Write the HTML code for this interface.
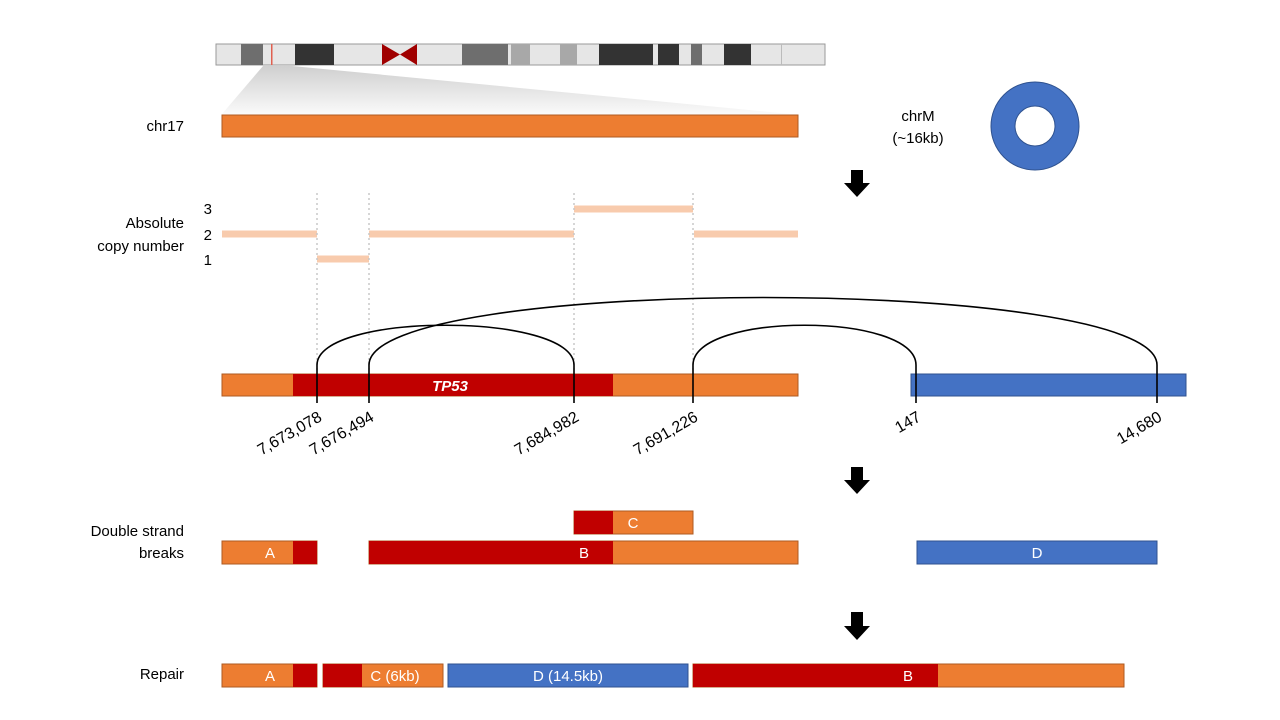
<!DOCTYPE html>
<html><head><meta charset="utf-8"><style>body{margin:0;background:#fff}svg{display:block}text{font-family:"Liberation Sans",sans-serif}</style></head><body>
<svg width="1280" height="720" viewBox="0 0 1280 720">
<defs><linearGradient id="g" x1="0" y1="0" x2="0" y2="1"><stop offset="0" stop-color="#cfcfcf"/><stop offset="1" stop-color="#fafafa"/></linearGradient></defs>
<polygon points="263,66 292,66 790,114 222,114" fill="url(#g)"/>
<g stroke="none">
<rect x="216" y="44" width="609" height="21" fill="#e6e6e6" stroke="#999" stroke-width="1"/>
<rect x="241" y="44" width="22" height="21" fill="#6e6e6e"/>
<rect x="271" y="44" width="1.5" height="21" fill="#e06050"/>
<rect x="295" y="44" width="39" height="21" fill="#333"/>
<polygon points="382,44 400,54.5 417,44 417,65 400,54.5 382,65" fill="#a00000"/>
<rect x="462" y="44" width="46" height="21" fill="#6e6e6e"/>
<rect x="511" y="44" width="19" height="21" fill="#a8a8a8"/>
<rect x="560" y="44" width="17" height="21" fill="#a8a8a8"/>
<rect x="599" y="44" width="54" height="21" fill="#333"/>
<rect x="658" y="44" width="21" height="21" fill="#333"/>
<rect x="691" y="44" width="11" height="21" fill="#6e6e6e"/>
<rect x="724" y="44" width="27" height="21" fill="#333"/>
<rect x="781" y="44" width="1" height="21" fill="#bbb"/>
</g>
<g font-size="15" fill="#000">
<text x="184" y="131" text-anchor="end">chr17</text>
<text x="184" y="228" text-anchor="end">Absolute</text>
<text x="184" y="251" text-anchor="end">copy number</text>
<text x="212" y="214" text-anchor="end">3</text>
<text x="212" y="240" text-anchor="end">2</text>
<text x="212" y="265" text-anchor="end">1</text>
<text x="184" y="536" text-anchor="end">Double strand</text>
<text x="184" y="558" text-anchor="end">breaks</text>
<text x="184" y="679" text-anchor="end">Repair</text>
<text x="918" y="121" text-anchor="middle">chrM</text>
<text x="918" y="143" text-anchor="middle">(~16kb)</text>
</g>
<rect x="222" y="115" width="576" height="22" fill="#ed7d31" stroke="#ae5a21"/>
<circle cx="1035" cy="126" r="32" fill="none" stroke="#4472c4" stroke-width="24"/>
<circle cx="1035" cy="126" r="44" fill="none" stroke="#2f528f" stroke-width="1"/>
<circle cx="1035" cy="126" r="20" fill="none" stroke="#2f528f" stroke-width="1"/>
<g stroke="#f8cbad" stroke-width="7">
<line x1="222" y1="234" x2="317" y2="234"/><line x1="317" y1="259" x2="369" y2="259"/>
<line x1="369" y1="234" x2="574" y2="234"/><line x1="574" y1="209" x2="693" y2="209"/>
<line x1="694" y1="234" x2="798" y2="234"/></g>
<g stroke="#c8c8c8" stroke-width="1.5" stroke-dasharray="2,3">
<line x1="317" y1="193" x2="317" y2="374"/><line x1="369" y1="193" x2="369" y2="374"/>
<line x1="574" y1="193" x2="574" y2="374"/><line x1="693" y1="193" x2="693" y2="374"/></g>
<rect x="222" y="374" width="576" height="22" fill="#ed7d31" stroke="#ae5a21"/>
<rect x="293" y="374" width="320" height="22" fill="#c00000"/>
<text x="450" y="391" font-size="15" font-weight="bold" font-style="italic" fill="#fff" text-anchor="middle">TP53</text>
<rect x="911" y="374" width="275" height="22" fill="#4472c4" stroke="#2f528f"/>
<g fill="none" stroke="#000" stroke-width="1.6">
<path d="M317,403 L317,365 C317,312 574,312 574,365 L574,403"/>
<path d="M369,403 L369,365 C369,275 1157,275 1157,365 L1157,403"/>
<path d="M693,403 L693,365 C693,312 916,312 916,365 L916,403"/>
</g>
<g font-size="16" fill="#000" text-anchor="end">
<text transform="translate(323,420) rotate(-30)">7,673,078</text>
<text transform="translate(375,420) rotate(-30)">7,676,494</text>
<text transform="translate(580,420) rotate(-30)">7,684,982</text>
<text transform="translate(699,420) rotate(-30)">7,691,226</text>
<text transform="translate(922,420) rotate(-30)">147</text>
<text transform="translate(1163,420) rotate(-30)">14,680</text>
</g>
<g fill="#000">
<polygon points="851,170 863,170 863,183 870,183 857,197 844,183 851,183"/>
<polygon points="851,467 863,467 863,480 870,480 857,494 844,480 851,480"/>
<polygon points="851,612 863,612 863,626 870,626 857,640 844,626 851,626"/>
</g>
<g font-size="15" fill="#fff" text-anchor="middle">
<rect x="574" y="511" width="119" height="23" fill="#ed7d31" stroke="#ae5a21"/>
<rect x="574" y="511" width="39" height="23" fill="#c00000"/>
<text x="633" y="528">C</text>
<rect x="222" y="541" width="95" height="23" fill="#ed7d31" stroke="#ae5a21"/>
<rect x="293" y="541" width="24" height="23" fill="#c00000"/>
<text x="270" y="558">A</text>
<rect x="369" y="541" width="429" height="23" fill="#ed7d31" stroke="#ae5a21"/>
<rect x="369" y="541" width="244" height="23" fill="#c00000"/>
<text x="584" y="558">B</text>
<rect x="917" y="541" width="240" height="23" fill="#4472c4" stroke="#2f528f"/>
<text x="1037" y="558">D</text>
<rect x="222" y="664" width="95" height="23" fill="#ed7d31" stroke="#ae5a21"/>
<rect x="293" y="664" width="24" height="23" fill="#c00000"/>
<text x="270" y="681">A</text>
<rect x="323" y="664" width="120" height="23" fill="#ed7d31" stroke="#ae5a21"/>
<rect x="323" y="664" width="39" height="23" fill="#c00000"/>
<text x="395" y="681">C (6kb)</text>
<rect x="448" y="664" width="240" height="23" fill="#4472c4" stroke="#2f528f"/>
<text x="568" y="681">D (14.5kb)</text>
<rect x="693" y="664" width="431" height="23" fill="#ed7d31" stroke="#ae5a21"/>
<rect x="693" y="664" width="245" height="23" fill="#c00000"/>
<text x="908" y="681">B</text>
</g>
</svg>
</body></html>
